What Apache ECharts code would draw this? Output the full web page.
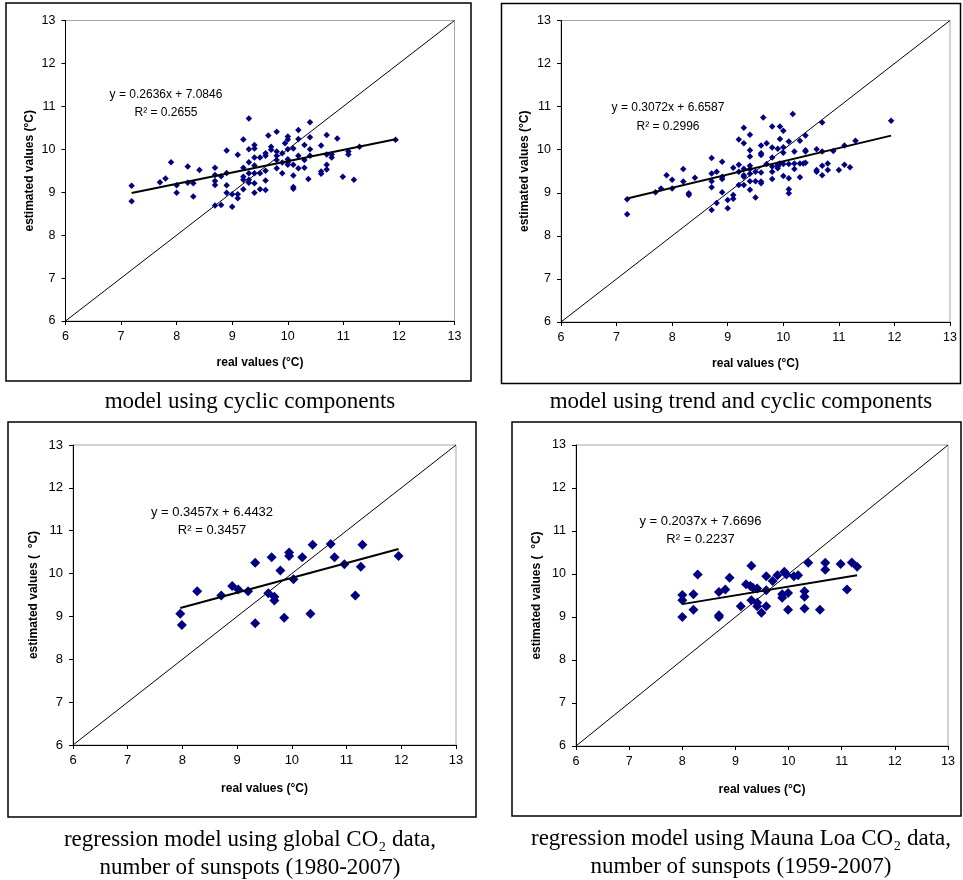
<!DOCTYPE html>
<html><head><meta charset="utf-8">
<script src="https://cdn.jsdelivr.net/npm/echarts@6/dist/echarts.min.js"></script>
<style>html,body{margin:0;padding:0;background:#fff}#c{width:963px;height:880px}</style>
</head><body><div id="c"></div><script>
// axis range shared by all four panels
const axisMin = 6, axisMax = 13, axisStep = 1;
const identityLine = [6, 13];

// panel 1: model using cyclic components  [real, estimated]
const cyclicPoints = [
[7.19,9.15],[7.19,8.79],[7.70,9.23],[7.80,9.32],[7.90,9.70],[8.0,9.16],[8.0,8.99],[8.20,9.60],[8.20,9.22],[8.30,9.21],
[8.30,8.90],[8.41,9.52],[8.69,9.57],[8.69,9.40],[8.69,9.26],[8.69,9.17],[8.69,8.69],[8.80,9.37],[8.80,8.70],[8.90,9.97],
[8.90,9.45],[8.90,9.16],[8.90,8.99],[9.0,8.95],[9.0,8.66],[9.10,9.87],[9.10,8.95],[9.10,8.86],[9.20,10.23],[9.20,9.57],
[9.20,9.36],[9.20,9.29],[9.20,9.07],[9.30,10.72],[9.30,10.0],[9.30,9.70],[9.30,9.44],[9.30,9.29],[9.30,9.22],[9.40,10.10],
[9.40,10.02],[9.40,9.81],[9.40,9.62],[9.40,9.44],[9.40,9.21],[9.40,8.99],[9.50,9.81],[9.50,9.44],[9.50,9.07],[9.60,9.91],
[9.60,9.85],[9.60,9.50],[9.60,9.27],[9.60,9.05],[9.65,10.32],[9.70,10.06],[9.70,9.99],[9.80,10.41],[9.80,9.95],[9.80,9.85],
[9.80,9.75],[9.80,9.56],[9.90,9.91],[9.90,9.69],[9.90,9.44],[9.95,10.14],[10.0,10.30],[10.0,10.23],[10.0,10.0],[10.0,9.77],
[10.0,9.69],[10.0,9.64],[10.10,10.02],[10.10,9.64],[10.10,9.39],[10.10,9.12],[10.10,9.08],[10.19,10.45],[10.19,10.24],[10.19,9.85],
[10.19,9.56],[10.30,10.10],[10.30,9.75],[10.30,9.57],[10.37,9.31],[10.40,10.63],[10.40,10.28],[10.40,10.0],[10.40,9.85],[10.60,10.09],
[10.60,9.48],[10.60,9.43],[10.70,10.33],[10.70,9.88],[10.70,9.64],[10.70,9.53],[10.79,9.88],[10.79,9.81],[10.89,10.25],[10.99,9.36],
[11.09,9.95],[11.09,9.88],[11.19,9.29],[11.29,10.06],[11.94,10.22]
];
// panel 2: model using trend and cyclic components
const trendCyclicPoints = [
[7.19,8.85],[7.19,8.50],[7.70,9.01],[7.80,9.10],[7.90,9.41],[8.0,9.30],[8.0,9.10],[8.20,9.55],[8.20,9.26],[8.30,8.99],
[8.30,8.95],[8.41,9.35],[8.71,9.81],[8.71,9.45],[8.71,9.27],[8.71,9.13],[8.71,8.60],[8.80,9.49],[8.80,8.76],[8.90,9.72],
[8.90,9.37],[8.90,9.32],[8.90,9.01],[9.0,8.83],[9.0,8.64],[9.10,9.58],[9.10,8.95],[9.10,8.86],[9.20,10.24],[9.20,9.65],
[9.20,9.49],[9.20,9.18],[9.29,10.51],[9.29,10.15],[9.29,9.56],[9.29,9.41],[9.29,9.37],[9.29,9.18],[9.40,10.35],[9.40,9.99],
[9.40,9.84],[9.40,9.63],[9.40,9.55],[9.40,9.44],[9.40,9.27],[9.40,9.07],[9.50,9.49],[9.50,9.27],[9.50,8.89],[9.60,10.10],
[9.60,9.92],[9.60,9.88],[9.60,9.47],[9.60,9.26],[9.60,9.22],[9.64,10.75],[9.70,10.15],[9.70,9.67],[9.80,10.54],[9.80,10.05],
[9.80,9.82],[9.80,9.61],[9.80,9.49],[9.80,9.32],[9.90,10.02],[9.90,9.65],[9.90,9.61],[9.90,9.57],[9.94,10.54],[9.94,10.25],
[9.94,9.68],[10.0,10.44],[10.0,10.06],[10.0,9.93],[10.0,9.67],[10.0,9.39],[10.10,10.19],[10.10,9.67],[10.10,9.34],[10.10,9.08],
[10.10,8.99],[10.17,10.83],[10.20,9.96],[10.20,9.68],[10.20,9.55],[10.30,10.21],[10.30,9.68],[10.30,9.36],[10.36,9.68],[10.40,10.33],
[10.40,9.99],[10.40,9.96],[10.40,9.70],[10.60,10.01],[10.60,9.53],[10.60,9.49],[10.70,10.63],[10.70,9.96],[10.70,9.63],[10.70,9.41],
[10.80,9.68],[10.80,9.53],[10.90,9.97],[11.0,9.53],[11.10,10.10],[11.10,9.65],[11.20,9.59],[11.30,10.21],[11.94,10.67]
];
// panel 3: regression model using global CO2 data, sunspots (1980-2007)
const globalCO2Points = [
[7.96,9.06],[7.99,8.80],[8.27,9.59],[8.71,9.49],[8.91,9.71],[9.02,9.63],[9.20,9.59],[9.33,10.25],[9.33,8.84],[9.57,9.54],
[9.63,10.38],[9.68,9.46],[9.68,9.37],[9.79,10.07],[9.86,8.97],[9.95,10.49],[9.95,10.41],[10.03,9.87],[10.19,10.38],[10.34,9.06],
[10.38,10.67],[10.71,10.69],[10.78,10.38],[10.96,10.22],[11.16,9.49],[11.26,10.16],[11.29,10.67],[11.95,10.41]
];
// panel 4: regression model using Mauna Loa CO2 data, sunspots (1959-2007)
const maunaLoaPoints = [
[8.0,9.51],[8.0,9.39],[8.0,9.0],[8.21,9.53],[8.21,9.17],[8.29,9.99],[8.69,9.58],[8.69,9.04],[8.69,9.0],[8.81,9.64],
[8.89,9.91],[9.10,9.25],[9.20,9.76],[9.28,9.72],[9.30,10.19],[9.30,9.39],[9.33,9.68],[9.41,9.66],[9.41,9.33],[9.41,9.25],
[9.49,9.10],[9.58,9.95],[9.58,9.62],[9.58,9.25],[9.70,9.84],[9.79,9.97],[9.88,9.53],[9.88,9.45],[9.92,10.05],[9.96,9.99],
[9.99,9.56],[9.99,9.17],[10.10,9.95],[10.18,9.97],[10.30,9.60],[10.30,9.47],[10.30,9.20],[10.37,10.26],[10.59,9.17],[10.69,10.26],
[10.69,10.10],[10.98,10.23],[11.10,9.64],[11.19,10.27],[11.29,10.17]
];

// linear trendlines as printed in the charts
const fitSlope = [0.2636, 0.3072, 0.3457, 0.2037];
const fitIntercept = [7.0846, 6.6587, 6.4432, 7.6696];
const fitR2 = ['0.2655', '0.2996', '0.3457', '0.2237'];

const xNames = ['real values (°C)', 'real values (°C)', 'real values (°C)', 'real values (°C)'];
const yNames = ['estimated values (°C)', 'estimated values (°C)', 'estimated values (  °C)', 'estimated values (  °C)'];
const captions = [
  'model using cyclic components',
  'model using trend and cyclic components',
  'regression model using global CO₂ data,\nnumber of sunspots (1980-2007)',
  'regression model using Mauna Loa CO₂ data,\nnumber of sunspots (1959-2007)'
];

const panels = [cyclicPoints, trendCyclicPoints, globalCO2Points, maunaLoaPoints];

// layout
const grids = [
  {left: 65.5, top: 20.5, width: 389, height: 300.5},
  {left: 561, top: 20.5, width: 389, height: 301.5},
  {left: 73, top: 445, width: 383, height: 300},
  {left: 576, top: 445, width: 372, height: 301}
];
const yNameGap = [30, 30, 33.5, 33.5];
const xNameGap = [35.5, 36, 38, 37.5];
const symSize = [6.5, 6.5, 10, 10];
const labelSize = [12.5, 12.5, 13, 12.5];
const eqSize = [12, 12, 13, 13];
const eqPos = [[166, 94.5, 113], [668, 107.5, 126.5], [212, 512.5, 530.5], [700.5, 521.5, 539.5]];
const capPos = [[250, 402], [741, 402], [250, 854], [741, 853]];
const boxes = [[6, 3, 465, 378], [501.5, 3.5, 459, 380], [8, 422, 468, 395], [512, 422, 449, 394]];

const SANS = 'Liberation Sans, Arial, sans-serif';
const SERIF = 'Liberation Serif, Times New Roman, serif';

const option = {
  animation: false,
  backgroundColor: '#fff',
  grid: grids.map(g => Object.assign({show: true, borderColor: '#a6a6a6', borderWidth: 1, backgroundColor: '#fff'}, g)),
  xAxis: grids.map((g, i) => ({
    gridIndex: i, type: 'value', min: axisMin, max: axisMax, interval: axisStep,
    name: xNames[i], nameLocation: 'middle', nameGap: xNameGap[i],
    nameTextStyle: {fontFamily: SANS, fontWeight: 'bold', fontSize: 12, color: '#000'},
    axisLine: {onZero: false, lineStyle: {color: '#000', width: 1}},
    axisTick: {show: true, length: 4, lineStyle: {color: '#000'}},
    axisLabel: {fontFamily: SANS, fontSize: labelSize[i], color: '#000', margin: 9},
    splitLine: {show: false}
  })),
  yAxis: grids.map((g, i) => ({
    gridIndex: i, type: 'value', min: axisMin, max: axisMax, interval: axisStep,
    name: yNames[i], nameLocation: 'middle', nameGap: yNameGap[i], nameRotate: 90,
    nameTextStyle: {fontFamily: SANS, fontWeight: 'bold', fontSize: 12, color: '#000'},
    axisLine: {onZero: false, lineStyle: {color: '#000', width: 1}},
    axisTick: {show: true, length: 4, lineStyle: {color: '#000'}},
    axisLabel: {fontFamily: SANS, fontSize: labelSize[i], color: '#000', margin: 10},
    splitLine: {show: false}
  })),
  series: [],
  graphic: []
};

panels.forEach((pts, i) => {
  const xs = pts.map(p => p[0]);
  const x0 = Math.min(...xs), x1 = Math.max(...xs);
  option.series.push({
    type: 'line', xAxisIndex: i, yAxisIndex: i, silent: true, showSymbol: false, z: 2,
    data: [[identityLine[0], identityLine[0]], [identityLine[1], identityLine[1]]],
    lineStyle: {color: '#000', width: 1}
  });
  option.series.push({
    type: 'scatter', xAxisIndex: i, yAxisIndex: i, silent: true, z: 3,
    symbol: 'diamond', symbolSize: symSize[i],
    itemStyle: {color: '#000080', opacity: 1},
    data: pts
  });
  option.series.push({
    type: 'line', xAxisIndex: i, yAxisIndex: i, silent: true, showSymbol: false, z: 4,
    data: [[x0, fitSlope[i] * x0 + fitIntercept[i]], [x1, fitSlope[i] * x1 + fitIntercept[i]]],
    lineStyle: {color: '#000', width: 2}
  });
  option.graphic.push({
    type: 'rect', silent: true, z: -1,
    shape: {x: boxes[i][0], y: boxes[i][1], width: boxes[i][2], height: boxes[i][3]},
    style: {fill: 'none', stroke: '#000', lineWidth: 1.5}
  });
  option.graphic.push({
    type: 'text', silent: true, z: 10, x: eqPos[i][0], y: eqPos[i][1],
    style: {text: 'y = ' + fitSlope[i] + 'x + ' + fitIntercept[i], font: eqSize[i] + 'px ' + SANS,
            fill: '#000', align: 'center', verticalAlign: 'middle'}
  });
  option.graphic.push({
    type: 'text', silent: true, z: 10, x: eqPos[i][0], y: eqPos[i][2],
    style: {text: 'R² = ' + fitR2[i], font: eqSize[i] + 'px ' + SANS,
            fill: '#000', align: 'center', verticalAlign: 'middle'}
  });
  option.graphic.push({
    type: 'text', silent: true, z: 10, x: capPos[i][0], y: capPos[i][1],
    style: {text: captions[i], font: '23px ' + SERIF, lineHeight: 28,
            fill: '#000', align: 'center', verticalAlign: 'middle'}
  });
});

const chart = echarts.init(document.getElementById('c'), null, {renderer: 'canvas', width: 963, height: 880});
chart.setOption(option);
</script></body></html>
